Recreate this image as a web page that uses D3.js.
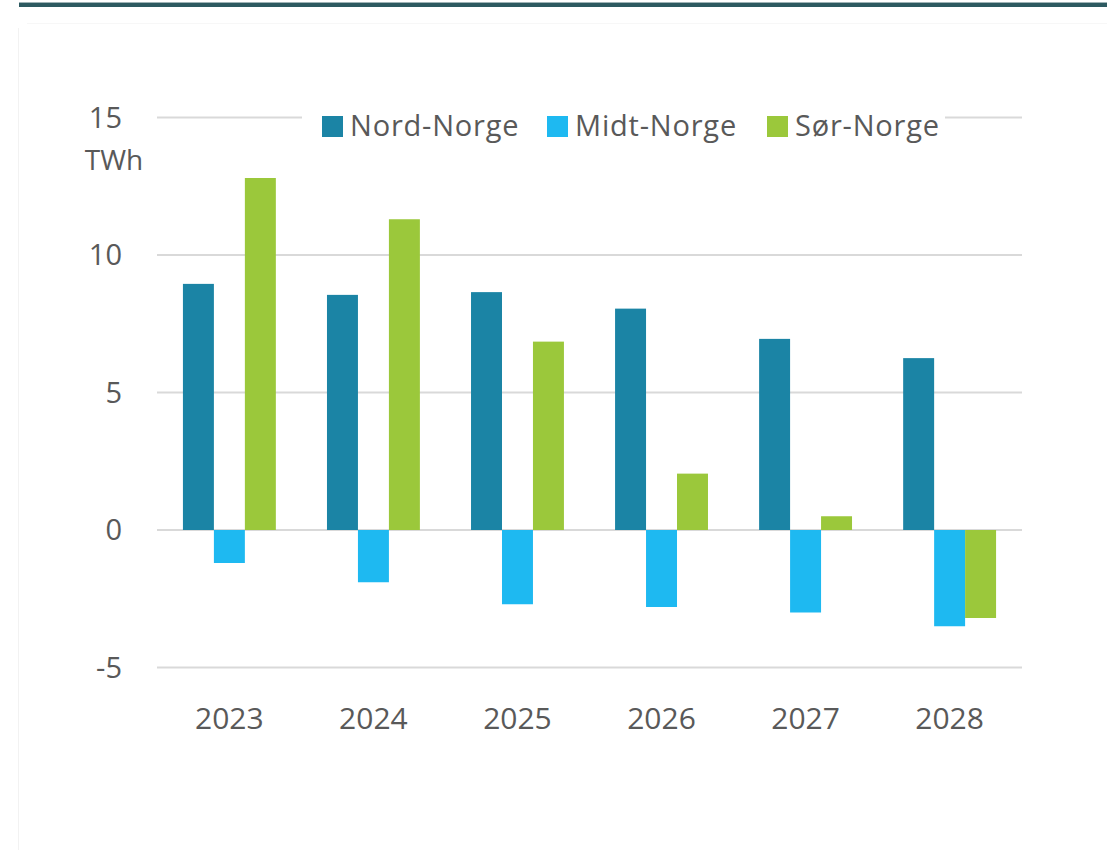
<!DOCTYPE html>
<html>
<head>
<meta charset="utf-8">
<script src="https://cdn.jsdelivr.net/npm/d3@7"></script>
<style>
  body { margin: 0; background: #fff; }
  svg { display: block; }
</style>
</head>
<body>
<div id="chart"></div>
<script>
// Data
//////////////////////////////////////////////////////////////////////
const years = ["2023", "2024", "2025", "2026", "2027", "2028"];
const series = ["Nord-Norge", "Midt-Norge", "Sør-Norge"];
const nordNorge = [8.95, 8.55, 8.65, 8.05, 6.95, 6.25];
const midtNorge = [-1.2, -1.9, -2.7, -2.8, -3.0, -3.5];
const sorNorge = [12.8, 11.3, 6.85, 2.05, 0.5, -3.2];
const yTicks = [-5, 0, 5, 10, 15];
const unit = "TWh";

// Variables
//////////////////////////////////////////////////////////////////////
const width = 1107, height = 850;
const fontFamily = "'Open Sans', sans-serif";
const textColor = "#595959";
const gridColor = "#d9d9d9";
const colors = ["#1b84a5", "#1eb9f1", "#9bc83b"];
const values = [nordNorge, midtNorge, sorNorge];

const svg = d3.select("#chart").append("svg")
  .attr("width", width)
  .attr("height", height);

// faint panel frame + top bar
svg.append("line").attr("x1", 18.5).attr("x2", 18.5).attr("y1", 28).attr("y2", height)
  .attr("stroke", "#f2f2f2").attr("stroke-width", 1);
svg.append("line").attr("x1", 27).attr("x2", width).attr("y1", 23.5).attr("y2", 23.5)
  .attr("stroke", "#f7f7f7").attr("stroke-width", 1);
svg.append("rect").attr("x", 19).attr("y", 2).attr("width", width - 19).attr("height", 1.5)
  .attr("fill", "#9fb3b6");
svg.append("rect").attr("x", 19).attr("y", 3).attr("width", width - 19).attr("height", 4)
  .attr("fill", "#2d5a61");

// Scales
const x = d3.scaleBand(years, [157, 1022]).paddingInner(0.355).paddingOuter(0.18);
const xs = d3.scaleBand(series, [0, x.bandwidth()]);
const y = d3.scaleLinear([-5, 15], [667.5, 117.5]);

// Gridlines
svg.append("g")
  .selectAll("line")
  .data(yTicks)
  .join("line")
  .attr("x1", 157).attr("x2", 1022)
  .attr("y1", d => y(d)).attr("y2", d => y(d))
  .attr("stroke", gridColor).attr("stroke-width", 2);

// Y labels
svg.append("g")
  .attr("font-family", fontFamily)
  .attr("font-size", 29)
  .attr("fill", textColor)
  .attr("text-anchor", "end")
  .selectAll("text")
  .data(yTicks)
  .join("text")
  .attr("x", 122)
  .attr("y", d => y(d))
  .attr("dy", "0.36em")
  .text(d => d);

svg.append("text")
  .attr("x", 114).attr("y", 160)
  .attr("dy", "0.36em")
  .attr("text-anchor", "middle")
  .attr("font-family", fontFamily)
  .attr("font-size", 28)
  .attr("fill", textColor)
  .text(unit);

// Bars
svg.append("g")
  .selectAll("g")
  .data(series.map((s, i) => ({ s, i })))
  .join("g")
  .attr("fill", d => colors[d.i])
  .selectAll("rect")
  .data(d => years.map((yr, j) => ({ s: d.s, yr, v: values[d.i][j] })))
  .join("rect")
  .attr("x", d => x(d.yr) + xs(d.s))
  .attr("width", xs.bandwidth())
  .attr("y", d => y(Math.max(0, d.v)))
  .attr("height", d => Math.abs(y(d.v) - y(0)));

// X labels
svg.append("g")
  .attr("font-family", fontFamily)
  .attr("font-size", 30)
  .attr("fill", textColor)
  .attr("text-anchor", "middle")
  .selectAll("text")
  .data(years)
  .join("text")
  .attr("x", d => x(d) + x.bandwidth() / 2)
  .attr("y", 718)
  .attr("dy", "0.36em")
  .text(d => d);

// Legend (white box breaking the top gridline)
const legend = svg.append("g")
  .attr("font-family", fontFamily)
  .attr("font-size", 29)
  .attr("letter-spacing", 0.8);
legend.append("rect").attr("x", 302).attr("y", 105).attr("width", 643).attr("height", 40).attr("fill", "#fff");
const legendX = [322, 547, 767];
series.forEach((s, i) => {
  legend.append("rect")
    .attr("x", legendX[i]).attr("y", 116)
    .attr("width", 21).attr("height", 21)
    .attr("fill", colors[i]);
  legend.append("text")
    .attr("x", legendX[i] + 28).attr("y", 126)
    .attr("dy", "0.36em")
    .attr("fill", textColor)
    .text(s);
});
</script>
</body>
</html>
